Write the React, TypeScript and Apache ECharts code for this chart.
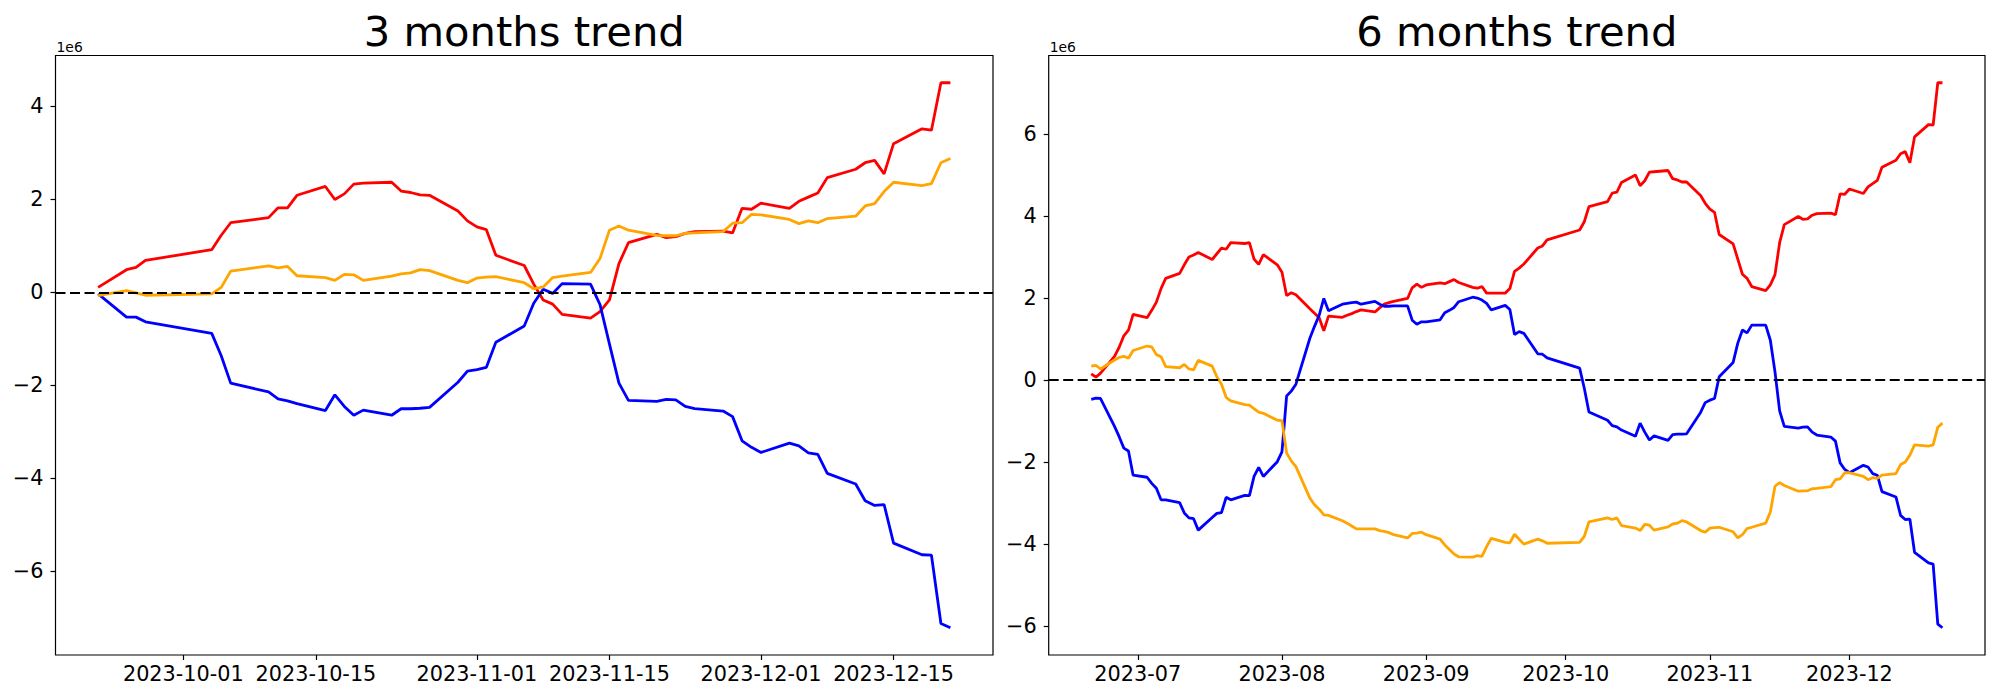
import React, { useEffect, useRef } from 'react';
import * as echarts from 'echarts';

const FONT = 'DejaVu Sans';
const RED = '#ff0000';
const BLUE = '#0000ff';
const ORANGE = '#ffa500';

// ---------- 3 months (values in units of 1e6) ----------
const dates3m = [
  '2023-09-22', '2023-09-25', '2023-09-26', '2023-09-27',
  '2023-10-04', '2023-10-05', '2023-10-06',
  '2023-10-10', '2023-10-11', '2023-10-12', '2023-10-13',
  '2023-10-16', '2023-10-17', '2023-10-18', '2023-10-19', '2023-10-20',
  '2023-10-23', '2023-10-24', '2023-10-25', '2023-10-26', '2023-10-27',
  '2023-10-30', '2023-10-31', '2023-11-01', '2023-11-02', '2023-11-03',
  '2023-11-06', '2023-11-07', '2023-11-08', '2023-11-09', '2023-11-10',
  '2023-11-13', '2023-11-14', '2023-11-15', '2023-11-16', '2023-11-17',
  '2023-11-20', '2023-11-21', '2023-11-22', '2023-11-23', '2023-11-24',
  '2023-11-27', '2023-11-28', '2023-11-29', '2023-11-30', '2023-12-01',
  '2023-12-04', '2023-12-05', '2023-12-06', '2023-12-07', '2023-12-08',
  '2023-12-11', '2023-12-12', '2023-12-13', '2023-12-14', '2023-12-15',
  '2023-12-18', '2023-12-19', '2023-12-20', '2023-12-21',
];
const red3m = [
  0.11, 0.49, 0.54, 0.69,
  0.92, 1.23, 1.50,
  1.61, 1.82, 1.82, 2.09,
  2.28, 2.00, 2.12, 2.33, 2.35,
  2.37, 2.18, 2.15, 2.10, 2.09,
  1.75, 1.54, 1.41, 1.35, 0.80,
  0.58, 0.18, -0.16, -0.25, -0.47,
  -0.55, -0.41, -0.16, 0.62, 1.07,
  1.25, 1.18, 1.20, 1.27, 1.31,
  1.32, 1.28, 1.81, 1.79, 1.92,
  1.81, 1.96, 2.05, 2.14, 2.47,
  2.65, 2.79, 2.84, 2.55, 3.20,
  3.52, 3.49, 4.51, 4.51,
];
const blue3m = [
  -0.03, -0.53, -0.53, -0.63,
  -0.88, -1.36, -1.95,
  -2.14, -2.29, -2.33, -2.39,
  -2.54, -2.20, -2.45, -2.64, -2.53,
  -2.64, -2.50, -2.50, -2.49, -2.47,
  -1.93, -1.69, -1.66, -1.61, -1.07,
  -0.72, -0.23, 0.07, -0.02, 0.19,
  0.18, -0.26, -1.11, -1.95, -2.32,
  -2.34, -2.30, -2.31, -2.45, -2.50,
  -2.55, -2.67, -3.19, -3.33, -3.44,
  -3.24, -3.30, -3.45, -3.48, -3.89,
  -4.12, -4.48, -4.58, -4.56, -5.39,
  -5.64, -5.65, -7.12, -7.21,
];
const orange3m = [
  -0.07, 0.04, -0.01, -0.06,
  -0.03, 0.11, 0.46,
  0.57, 0.53, 0.56, 0.36,
  0.32, 0.26, 0.39, 0.38, 0.26,
  0.35, 0.40, 0.42, 0.49, 0.47,
  0.26, 0.21, 0.31, 0.33, 0.34,
  0.21, 0.08, 0.12, 0.32, 0.35,
  0.43, 0.73, 1.34, 1.43, 1.34,
  1.23, 1.22, 1.22, 1.27, 1.28,
  1.31, 1.49, 1.50, 1.68, 1.67,
  1.57, 1.48, 1.54, 1.50, 1.59,
  1.64, 1.86, 1.91, 2.17, 2.37,
  2.30, 2.34, 2.79, 2.88,
];
const ticks3m = ['2023-10-01', '2023-10-15', '2023-11-01', '2023-11-15', '2023-12-01', '2023-12-15'];
const yTicks3m = [-6, -4, -2, 0, 2, 4];

// ---------- 6 months (values in units of 1e6) ----------
const dates6m = [
  '2023-06-21', '2023-06-22', '2023-06-23',
  '2023-06-26', '2023-06-27', '2023-06-28', '2023-06-29', '2023-06-30',
  '2023-07-03', '2023-07-04', '2023-07-05', '2023-07-06', '2023-07-07',
  '2023-07-10', '2023-07-11', '2023-07-12', '2023-07-13', '2023-07-14',
  '2023-07-17', '2023-07-18', '2023-07-19', '2023-07-20', '2023-07-21',
  '2023-07-24', '2023-07-25', '2023-07-26', '2023-07-27', '2023-07-28',
  '2023-07-31', '2023-08-01', '2023-08-02', '2023-08-03', '2023-08-04',
  '2023-08-07', '2023-08-08', '2023-08-09', '2023-08-10', '2023-08-11',
  '2023-08-14', '2023-08-15', '2023-08-16', '2023-08-17', '2023-08-18',
  '2023-08-21', '2023-08-22', '2023-08-23', '2023-08-24', '2023-08-25',
  '2023-08-28', '2023-08-29', '2023-08-30', '2023-08-31', '2023-09-01',
  '2023-09-04', '2023-09-05', '2023-09-06', '2023-09-07', '2023-09-08',
  '2023-09-11', '2023-09-12', '2023-09-13', '2023-09-14', '2023-09-15',
  '2023-09-18', '2023-09-19', '2023-09-20', '2023-09-21', '2023-09-22',
  '2023-09-25', '2023-09-26', '2023-09-27',
  '2023-10-04', '2023-10-05', '2023-10-06',
  '2023-10-10', '2023-10-11', '2023-10-12', '2023-10-13',
  '2023-10-16', '2023-10-17', '2023-10-18', '2023-10-19', '2023-10-20',
  '2023-10-23', '2023-10-24', '2023-10-25', '2023-10-26', '2023-10-27',
  '2023-10-30', '2023-10-31', '2023-11-01', '2023-11-02', '2023-11-03',
  '2023-11-06', '2023-11-07', '2023-11-08', '2023-11-09', '2023-11-10',
  '2023-11-13', '2023-11-14', '2023-11-15', '2023-11-16', '2023-11-17',
  '2023-11-20', '2023-11-21', '2023-11-22', '2023-11-23', '2023-11-24',
  '2023-11-27', '2023-11-28', '2023-11-29', '2023-11-30', '2023-12-01',
  '2023-12-04', '2023-12-05', '2023-12-06', '2023-12-07', '2023-12-08',
  '2023-12-11', '2023-12-12', '2023-12-13', '2023-12-14', '2023-12-15',
  '2023-12-18', '2023-12-19', '2023-12-20', '2023-12-21',
];
const red6m = [
  0.15, 0.07, 0.17,
  0.58, 0.80, 1.08, 1.22, 1.60,
  1.52, 1.70, 1.90, 2.23, 2.48,
  2.60, 2.81, 3.00, 3.05, 3.11,
  2.94, 3.08, 3.22, 3.19, 3.35,
  3.33, 3.35, 2.95, 2.82, 3.06,
  2.81, 2.63, 2.06, 2.13, 2.08,
  1.74, 1.63, 1.52, 1.20, 1.56,
  1.53, 1.58, 1.62, 1.67, 1.71,
  1.66, 1.76, 1.85, 1.89, 1.92,
  1.99, 2.25, 2.34, 2.26, 2.32,
  2.37, 2.35, 2.40, 2.45, 2.38,
  2.26, 2.24, 2.28, 2.12, 2.12,
  2.12, 2.23, 2.65, 2.73, 2.83,
  3.22, 3.27, 3.42,
  3.66, 3.86, 4.23,
  4.35, 4.56, 4.58, 4.82,
  5.00, 4.74, 4.86, 5.07, 5.08,
  5.11, 4.91, 4.88, 4.83, 4.83,
  4.50, 4.31, 4.17, 4.09, 3.55,
  3.32, 2.95, 2.58, 2.48, 2.28,
  2.18, 2.32, 2.57, 3.35, 3.79,
  3.99, 3.92, 3.93, 4.02, 4.06,
  4.07, 4.03, 4.54, 4.53, 4.66,
  4.55, 4.71, 4.79, 4.87, 5.19,
  5.36, 5.52, 5.57, 5.30, 5.93,
  6.23, 6.22, 7.25, 7.25,
];
const blue6m = [
  -0.47, -0.44, -0.45,
  -1.13, -1.38, -1.66, -1.73, -2.32,
  -2.37, -2.52, -2.64, -2.92, -2.92,
  -2.99, -3.24, -3.36, -3.38, -3.66,
  -3.35, -3.25, -3.23, -2.86, -2.92,
  -2.81, -2.82, -2.35, -2.13, -2.35,
  -1.99, -1.75, -0.39, -0.27, -0.10,
  1.02, 1.31, 1.58, 1.99, 1.69,
  1.85, 1.87, 1.89, 1.90, 1.85,
  1.92, 1.85, 1.80, 1.80, 1.81,
  1.81, 1.46, 1.36, 1.42, 1.42,
  1.47, 1.64, 1.70, 1.77, 1.91,
  2.02, 2.00, 1.95, 1.87, 1.71,
  1.82, 1.72, 1.11, 1.18, 1.14,
  0.64, 0.63, 0.54,
  0.29, -0.20, -0.78,
  -0.98, -1.11, -1.14, -1.22,
  -1.37, -1.05, -1.27, -1.46, -1.36,
  -1.47, -1.33, -1.32, -1.32, -1.31,
  -0.79, -0.55, -0.49, -0.45, 0.08,
  0.43, 0.90, 1.22, 1.15, 1.34,
  1.34, 0.97, 0.20, -0.75, -1.13,
  -1.17, -1.15, -1.14, -1.27, -1.34,
  -1.39, -1.49, -2.02, -2.18, -2.26,
  -2.08, -2.12, -2.28, -2.32, -2.72,
  -2.85, -3.30, -3.40, -3.39, -4.20,
  -4.46, -4.49, -5.95, -6.04,
];
const orange6m = [
  0.34, 0.36, 0.27,
  0.49, 0.55, 0.58, 0.53, 0.72,
  0.83, 0.81, 0.62, 0.57, 0.33,
  0.30, 0.38, 0.27, 0.25, 0.48,
  0.34, 0.08, -0.10, -0.42, -0.51,
  -0.60, -0.61, -0.70, -0.78, -0.81,
  -0.98, -0.99, -1.78, -1.97, -2.11,
  -2.88, -3.04, -3.15, -3.29, -3.30,
  -3.43, -3.49, -3.56, -3.63, -3.63,
  -3.63, -3.67, -3.69, -3.72, -3.77,
  -3.85, -3.74, -3.73, -3.71, -3.77,
  -3.88, -4.02, -4.13, -4.24, -4.31,
  -4.32, -4.28, -4.30, -4.06, -3.86,
  -3.96, -3.97, -3.76, -3.88, -4.00,
  -3.88, -3.92, -3.98,
  -3.96, -3.81, -3.46,
  -3.36, -3.40, -3.36, -3.55,
  -3.61, -3.67, -3.52, -3.54, -3.66,
  -3.58, -3.51, -3.49, -3.43, -3.46,
  -3.67, -3.71, -3.61, -3.60, -3.59,
  -3.70, -3.85, -3.77, -3.62, -3.59,
  -3.49, -3.22, -2.59, -2.50, -2.57,
  -2.71, -2.70, -2.70, -2.65, -2.64,
  -2.60, -2.43, -2.41, -2.26, -2.26,
  -2.35, -2.43, -2.38, -2.40, -2.32,
  -2.28, -2.06, -2.00, -1.83, -1.58,
  -1.61, -1.58, -1.15, -1.05,
];
const ticks6m = ['2023-07-01', '2023-08-01', '2023-09-01', '2023-10-01', '2023-11-01', '2023-12-01'];
const yTicks6m = [-6, -4, -2, 0, 2, 4, 6];

// ---------- helpers ----------
function parseDay(s: string): number {
  const [y, m, d] = s.split('-').map(Number);
  return Date.UTC(y, m - 1, d);
}
const pad2 = (n: number) => (n < 10 ? '0' + n : '' + n);
const fmtYMD = (v: number) => {
  const d = new Date(Math.round(v));
  return d.getUTCFullYear() + '-' + pad2(d.getUTCMonth() + 1) + '-' + pad2(d.getUTCDate());
};
const fmtYM = (v: number) => {
  const d = new Date(Math.round(v));
  return d.getUTCFullYear() + '-' + pad2(d.getUTCMonth() + 1);
};
const fmtY = (v: number) => String(v).replace('-', '\u2212');

function xAxisFor(gridIndex: number, dates: string[], ticks: string[], fmt: (v: number) => string) {
  const ts = dates.map(parseDay);
  const lo = Math.min(...ts);
  const hi = Math.max(...ts);
  const m = (hi - lo) * 0.05;
  const tv = ticks.map(parseDay);
  return {
    type: 'value',
    gridIndex,
    min: lo - m,
    max: hi + m,
    scale: true,
    axisLine: { show: false, onZero: false },
    splitLine: { show: false },
    axisTick: { show: true, length: 5, lineStyle: { color: '#000', width: 1.2 }, customValues: tv },
    axisLabel: {
      show: true,
      customValues: tv,
      formatter: (v: number) => fmt(v),
      fontFamily: FONT,
      fontSize: 20.8,
      color: '#000',
      margin: 8,
      hideOverlap: false,
      showMinLabel: true,
      showMaxLabel: true,
    },
  };
}

function yAxisFor(gridIndex: number, series: number[][], ticks: number[]) {
  const all = series.flat();
  const lo = Math.min(...all);
  const hi = Math.max(...all);
  const m = (hi - lo) * 0.05;
  return {
    type: 'value',
    gridIndex,
    min: lo - m,
    max: hi + m,
    axisLine: { show: false, onZero: false },
    splitLine: { show: false },
    axisTick: { show: true, length: 5, lineStyle: { color: '#000', width: 1.2 }, customValues: ticks },
    axisLabel: {
      show: true,
      customValues: ticks,
      formatter: (v: number) => fmtY(v),
      fontFamily: FONT,
      fontSize: 20.8,
      color: '#000',
      margin: 12,
    },
  };
}

function lineSeries(idx: number, dates: string[], values: number[], color: string, withZero: boolean) {
  const s: any = {
    type: 'line',
    xAxisIndex: idx,
    yAxisIndex: idx,
    data: dates.map((d, i) => [parseDay(d), values[i]]),
    showSymbol: false,
    symbol: 'none',
    lineStyle: { color, width: 2.8 },
    itemStyle: { color },
    emphasis: { disabled: true },
  };
  if (withZero) {
    s.markLine = {
      silent: true,
      symbol: ['none', 'none'],
      label: { show: false },
      lineStyle: { color: '#000', type: [10, 4.5], width: 2.2 },
      emphasis: { disabled: true },
      data: [{ yAxis: 0 }],
    };
  }
  return s;
}

export default function App() {
  const ref = useRef<HTMLDivElement>(null);

  useEffect(() => {
    if (!ref.current) return;
    const chart = echarts.init(ref.current, undefined, { renderer: 'svg' });
    const g1 = { left: 55.5, top: 55.5, width: 937.5, height: 599.5 };
    const g2 = { left: 1048.7, top: 55.5, width: 936.3, height: 599.5 };
    const gridStyle = { show: true, borderColor: '#000', borderWidth: 1.2, backgroundColor: 'transparent', containLabel: false };

    chart.setOption({
      animation: false,
      backgroundColor: '#fff',
      grid: [
        { ...g1, ...gridStyle },
        { ...g2, ...gridStyle },
      ],
      xAxis: [
        xAxisFor(0, dates3m, ticks3m, fmtYMD),
        xAxisFor(1, dates6m, ticks6m, fmtYM),
      ],
      yAxis: [
        yAxisFor(0, [red3m, blue3m, orange3m], yTicks3m),
        yAxisFor(1, [red6m, blue6m, orange6m], yTicks6m),
      ],
      series: [
        lineSeries(0, dates3m, red3m, RED, false),
        lineSeries(0, dates3m, blue3m, BLUE, false),
        lineSeries(0, dates3m, orange3m, ORANGE, true),
        lineSeries(1, dates6m, red6m, RED, false),
        lineSeries(1, dates6m, blue6m, BLUE, false),
        lineSeries(1, dates6m, orange6m, ORANGE, true),
      ],
      graphic: [
        {
          type: 'text',
          x: g1.left + g1.width / 2,
          y: 31.5,
          style: { text: '3 months trend', fontFamily: FONT, fontSize: 41.7, fill: '#000', align: 'center', verticalAlign: 'middle' },
        },
        {
          type: 'text',
          x: g2.left + g2.width / 2,
          y: 31.5,
          style: { text: '6 months trend', fontFamily: FONT, fontSize: 41.7, fill: '#000', align: 'center', verticalAlign: 'middle' },
        },
        {
          type: 'text',
          x: g1.left + 1,
          y: 46.5,
          style: { text: '1e6', fontFamily: FONT, fontSize: 13.9, fill: '#000', align: 'left', verticalAlign: 'middle' },
        },
        {
          type: 'text',
          x: g2.left + 1,
          y: 46.5,
          style: { text: '1e6', fontFamily: FONT, fontSize: 13.9, fill: '#000', align: 'left', verticalAlign: 'middle' },
        },
      ],
    });

    return () => {
      chart.dispose();
    };
  }, []);

  return (
    <div
      ref={ref}
      style={{ position: 'absolute', left: 0, top: 0, width: 2000, height: 700, background: '#fff' }}
    />
  );
}
